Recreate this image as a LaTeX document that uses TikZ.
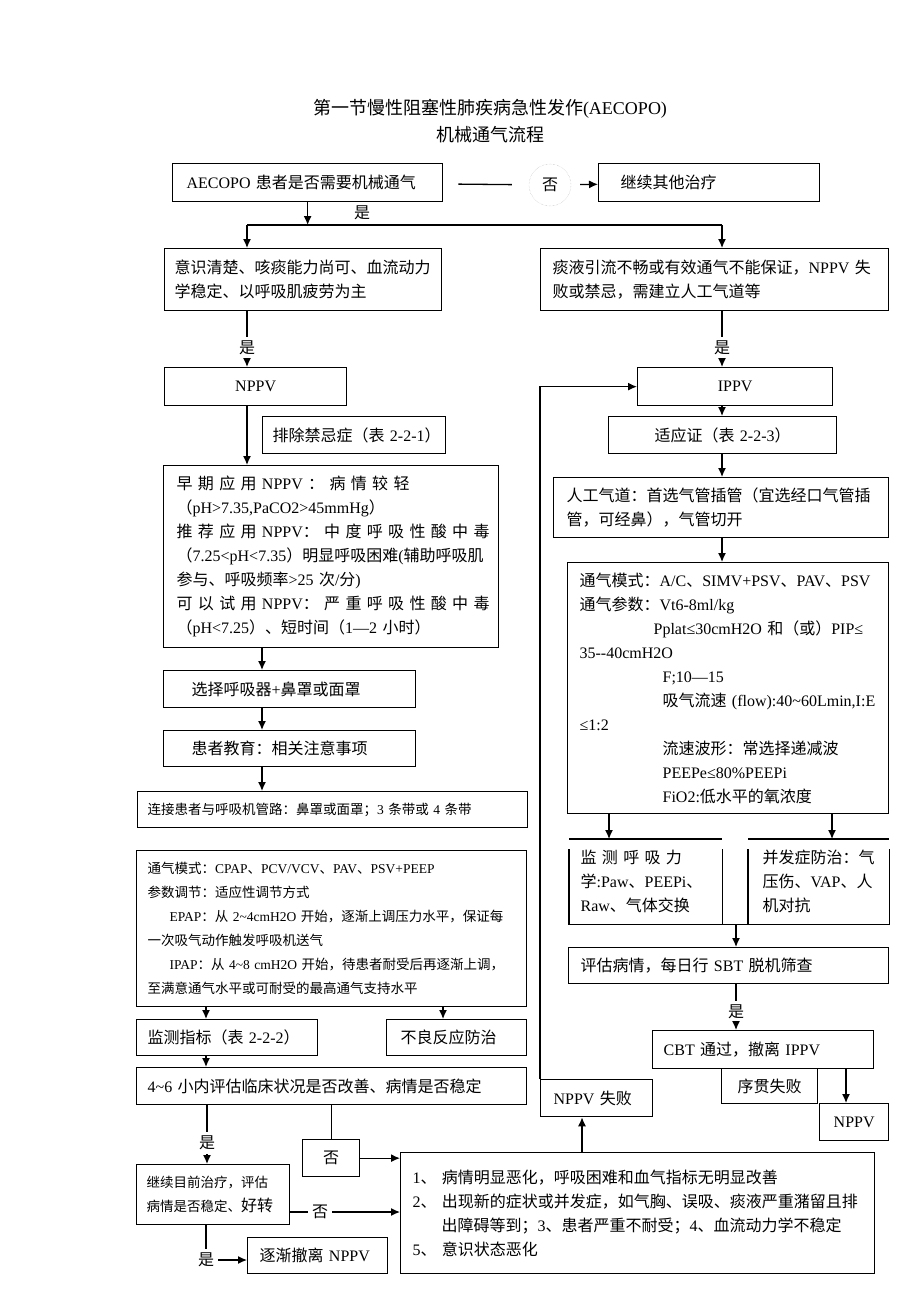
\documentclass[tikz,border=0pt]{standalone}
\usepackage{fontspec}
\setmainfont{Liberation Serif}
\newfontfamily\zhfont{Noto Sans CJK SC}
\usetikzlibrary{arrows.meta}

% Chinese characters switch to the CJK font, everything else stays in the main font
\XeTeXinterchartokenstate=1
\ifdefined\newXeTeXintercharclass
  \newXeTeXintercharclass\zhcls
\else
  \chardef\zhcls=7
\fi
\newcount\zhc
\def\zhrange#1#2{\zhc=#1 \loop \XeTeXcharclass\zhc=\zhcls \advance\zhc by 1 \ifnum\zhc<#2 \repeat}
\zhrange{"3000}{"3040}
\zhrange{"4E00}{"A000}
\zhrange{"FF00}{"FFF0}
\XeTeXinterchartoks 0 \zhcls = {\zhfont}
\XeTeXinterchartoks 4095 \zhcls = {\zhfont}
\XeTeXinterchartoks \zhcls 0 = {\rmfamily}
\XeTeXinterchartoks \zhcls 4095 = {\rmfamily}

\begin{document}
\begin{tikzpicture}[x=1pt, y=-1pt,
	flowbox/.style={draw, line width=1.3pt, anchor=north west, align=left, inner ysep=2pt, font=\fontsize{16}{24}\selectfont},
	smalltxt/.style={font=\fontsize{13.5}{24}\selectfont},
	lbl/.style={inner sep=4pt, font=\fontsize{16}{20}\selectfont},
	conn/.style={line width=1.3pt},
	arr/.style={line width=1.3pt, -{Latex[length=9pt, width=8pt]}}]
	\useasboundingbox (0,0) rectangle (920,1302);

	\node[font=\fontsize{18}{27}\selectfont, align=center] (title) at (490,121) {第一节慢性阻塞性肺疾病急性发作(AECOPO)\\机械通气流程};

	% top row
	\node[flowbox, inner xsep=14pt, text width=242pt, minimum height=38pt] (aecopo) at (172,163) {AECOPO 患者是否需要机械通气};
	\node[flowbox, inner xsep=22pt, text width=177pt, minimum height=38pt] (other) at (598,163) {继续其他治疗};
	\node[lbl, circle, draw=black!30, densely dotted, minimum size=42pt] (no1) at (550,185) {否};
	\node[lbl] (yes1) at (362,213) {是};
	\coordinate (lsplit) at (247,225);
	\coordinate (rsplit) at (722,225);

	\node[flowbox, inner xsep=10pt, text width=257pt, minimum height=62pt] (consc) at (164,248) {意识清楚、咳痰能力尚可、血流动力\\学稳定、以呼吸肌疲劳为主};
	\node[flowbox, inner xsep=12pt, text width=324pt, minimum height=62pt] (fail) at (540,248) {痰液引流不畅或有效通气不能保证，NPPV 失\\败或禁忌，需建立人工气道等};
	\node[lbl] (yes2) at (247,348) {是};
	\node[lbl] (yes5) at (722,348) {是};

	% left column
	\node[flowbox, align=center, inner xsep=10pt, text width=162pt, minimum height=38pt] (nppv) at (164,367) {NPPV};
	\node[flowbox, inner xsep=4pt, text width=175pt, minimum height=37pt] (excl) at (262,416) {\mbox{\hspace{6pt}排除禁忌症（表 2-2-1）}};
	\node[flowbox, inner xsep=13pt, text width=309pt, minimum height=182pt] (early) at (163,465) {%
		\makebox[\hsize][s]{早 期 应 用 NPPV ： 病 情 较 轻}\\
		（pH>7.35,PaCO2>45mmHg）\\
		\makebox[\hsize][s]{推 荐 应 用 NPPV： 中 度 呼 吸 性 酸 中 毒}\\
		（7.25<pH<7.35）明显呼吸困难(辅助呼吸肌\\
		参与、呼吸频率>25 次/分)\\
		\makebox[\hsize][s]{可 以 试 用 NPPV： 严 重 呼 吸 性 酸 中 毒}\\
		（pH<7.25）、短时间（1—2 小时）};
	\coordinate (lcol) at (262,0);
	\node[flowbox, inner xsep=28pt, text width=196pt, minimum height=37pt] (select) at (163,670) {选择呼吸器+鼻罩或面罩};
	\node[flowbox, inner xsep=28pt, text width=196pt, minimum height=36pt] (educ) at (163,730) {患者教育：相关注意事项};
	\node[flowbox, smalltxt, inner xsep=10pt, text width=370pt, minimum height=36pt] (connect) at (137,791) {连接患者与呼吸机管路：鼻罩或面罩；3 条带或 4 条带};
	\node[flowbox, smalltxt, inner xsep=11pt, text width=368pt, minimum height=156pt] (nivset) at (136,850) {%
		通气模式：CPAP、PCV/VCV、PAV、PSV+PEEP\\
		参数调节：适应性调节方式\\
		\hspace*{22pt}EPAP：从 2\textasciitilde 4cmH2O 开始，逐渐上调压力水平，保证每\\
		一次吸气动作触发呼吸机送气\\
		\hspace*{22pt}IPAP：从 4\textasciitilde 8 cmH2O 开始，待患者耐受后再逐渐上调，\\
		至满意通气水平或可耐受的最高通气支持水平};
	\coordinate (lcol2) at (206,0);
	\coordinate (lcol3) at (443,0);
	\node[flowbox, inner xsep=11pt, text width=159pt, minimum height=36pt] (monitor) at (136,1019) {监测指标（表 2-2-2）};
	\node[flowbox, inner xsep=14pt, text width=112pt, minimum height=36pt] (adverse) at (386,1019) {不良反应防治};
	\node[flowbox, inner xsep=11pt, text width=368pt, minimum height=37pt] (assess) at (136,1067) {4\textasciitilde 6 小内评估临床状况是否改善、病情是否稳定};
	\node[flowbox, align=center, inner xsep=6pt, text width=45pt, minimum height=37pt] (notbox) at (302,1139) {否};
	\node[lbl] (yes3) at (207,1143) {是};
	\node[flowbox, smalltxt, inner xsep=10pt, text width=133pt, minimum height=60pt] (cont) at (136,1164) {继续目前治疗，评估\\病情是否稳定、{\fontsize{16}{24}\selectfont 好转}};
	\node[lbl] (no3) at (320,1212) {否};
	\node[lbl] (yes4) at (206,1260) {是};
	\node[flowbox, inner xsep=12pt, text width=116pt, minimum height=36pt] (stop) at (247,1237) {逐渐撤离 NPPV};
	\node[flowbox, inner xsep=12pt, text width=450pt, minimum height=121pt] (worse) at (400,1152) {%
		1、 病情明显恶化，呼吸困难和血气指标无明显改善\\
		2、 出现新的症状或并发症，如气胸、误吸、痰液严重潴留且排\\
		\hspace*{29pt}出障碍等到；3、患者严重不耐受；4、血流动力学不稳定\\
		5、 意识状态恶化};
	\node[flowbox, inner xsep=13pt, text width=86pt, minimum height=37pt] (nfail) at (540,1079) {NPPV 失败};
	\coordinate (upcol) at (582,0);

	% right column
	\node[flowbox, align=center, inner xsep=10pt, text width=175pt, minimum height=38pt] (ippv) at (637,367) {IPPV};
	\node[flowbox, align=center, inner xsep=10pt, text width=208pt, minimum height=37pt] (indic) at (608,416) {适应证（表 2-2-3）};
	\node[flowbox, inner xsep=13pt, text width=309pt, minimum height=60pt] (airway) at (553,477) {人工气道：首选气管插管（宜选经口气管插\\管，可经鼻），气管切开};
	\node[flowbox, inner xsep=12pt, text width=297pt, minimum height=251pt] (vent) at (567,562) {%
		通气模式：A/C、SIMV+PSV、PAV、PSV\\
		通气参数：Vt6-8ml/kg\\
		\hspace*{74pt}Pplat≤30cmH2O 和（或）PIP≤\\
		35-{}-40cmH2O\\
		\hspace*{83pt}F;10—15\\
		\hspace*{83pt}吸气流速 (flow):40\textasciitilde 60Lmin,I:E\\
		≤1:2\\
		\hspace*{83pt}流速波形：常选择递减波\\
		\hspace*{83pt}PEEPe≤80\%PEEPi\\
		\hspace*{83pt}FiO2:低水平的氧浓度};
	\coordinate (ra) at (609,0);
	\coordinate (rb) at (832,0);
	\node[flowbox, draw=none, inner xsep=11pt, text width=130pt, minimum height=84pt] (mech) at (569,839) {%
		\makebox[\hsize][s]{监 测 呼 吸 力}\\学:Paw、PEEPi、\\Raw、气体交换};
	\node[flowbox, draw=none, inner xsep=14pt, text width=112pt, minimum height=84pt] (compl) at (748,839) {并发症防治：气\\压伤、VAP、人\\机对抗};
	\coordinate (rc) at (736,0);
	\node[flowbox, inner xsep=12pt, text width=296pt, minimum height=36pt] (sbt) at (568,947) {评估病情，每日行 SBT 脱机筛查};
	\node[lbl] (yes6) at (736,1012) {是};
	\node[flowbox, inner xsep=11pt, text width=199pt, minimum height=38pt] (cbt) at (652,1030) {CBT 通过，撤离 IPPV};
	\node[flowbox, align=center, inner xsep=8pt, text width=80pt, minimum height=35pt] (seqfail) at (721,1068) {序贯失败};
	\coordinate (rd) at (846,0);
	\node[flowbox, align=center, inner xsep=8pt, text width=53pt, minimum height=37pt] (nppv2) at (819,1103) {NPPV};

	% connectors
	\draw[conn, shorten <=15pt, shorten >=17pt] (aecopo) -- (no1);
	\draw[arr, shorten <=9pt] (no1) -- (other);
	\draw[arr] (aecopo.south) -- (aecopo.south |- lsplit);
	\draw[conn] (lsplit) -- (rsplit);
	\draw[arr] (lsplit) -- (lsplit |- consc.north);
	\draw[arr] (rsplit) -- (rsplit |- fail.north);

	\draw[conn] (consc.south -| yes2) -- (yes2);
	\draw[arr] (yes2) -- (yes2 |- nppv.north);
	\draw[arr] (nppv.south -| yes2) -- (yes2 |- early.north);
	\draw[arr] (lcol |- early.south) -- (lcol |- select.north);
	\draw[arr] (lcol |- select.south) -- (lcol |- educ.north);
	\draw[arr] (lcol |- educ.south) -- (lcol |- connect.north);
	\draw[arr] (lcol2 |- nivset.south) -- (lcol2 |- monitor.north);
	\draw[arr] (lcol3 |- nivset.south) -- (lcol3 |- adverse.north);
	\draw[arr] (lcol2 |- monitor.south) -- (lcol2 |- assess.north);
	\draw[conn] (assess.south -| yes3) -- (yes3);
	\draw[arr] (yes3) -- (yes3 |- cont.north);
	\draw[conn] (assess.south -| notbox) -- (notbox);
	\draw[arr] (notbox.east) -- (notbox.east -| worse.west);
	\draw[conn] (cont.east |- no3) -- (no3);
	\draw[arr] (no3) -- (no3 -| worse.west);
	\draw[conn] (cont.south -| yes4) -- (yes4);
	\draw[arr] (yes4) -- (yes4 -| stop.west);
	\draw[arr] (upcol |- worse.north) -- (upcol |- nfail.south);
	\draw[arr] (nfail.north west) -- (nfail.north west |- ippv.west) -- (ippv.west);

	\draw[conn] (fail.south -| yes5) -- (yes5);
	\draw[arr] (yes5) -- (yes5 |- ippv.north);
	\draw[arr] (ippv.south -| yes5) -- (yes5 |- indic.north);
	\draw[arr] (indic.south -| yes5) -- (yes5 |- airway.north);
	\draw[arr] (airway.south -| yes5) -- (yes5 |- vent.north);
	\draw[arr] (ra |- vent.south) -- (ra |- mech.north);
	\draw[arr] (rb |- vent.south) -- (rb |- compl.north);
	\draw[conn] (mech.north west) -- (mech.north east);
	\draw[conn] (compl.north west) -- (compl.north east);
	\draw[conn] ([yshift=-10pt]mech.north west) -- (mech.south west) -- (compl.south east) -- ([yshift=-10pt]compl.north east);
	\draw[conn] ([yshift=-10pt]mech.north east) -- (mech.south east);
	\draw[conn] ([yshift=-10pt]compl.north west) -- (compl.south west);
	\draw[arr] (rc |- mech.south) -- (rc |- sbt.north);
	\draw[conn] (sbt.south -| yes6) -- (yes6);
	\draw[arr] (yes6) -- (yes6 |- cbt.north);
	\draw[arr] (rd |- cbt.south) -- (rd |- nppv2.north);

\end{tikzpicture}
\end{document}
